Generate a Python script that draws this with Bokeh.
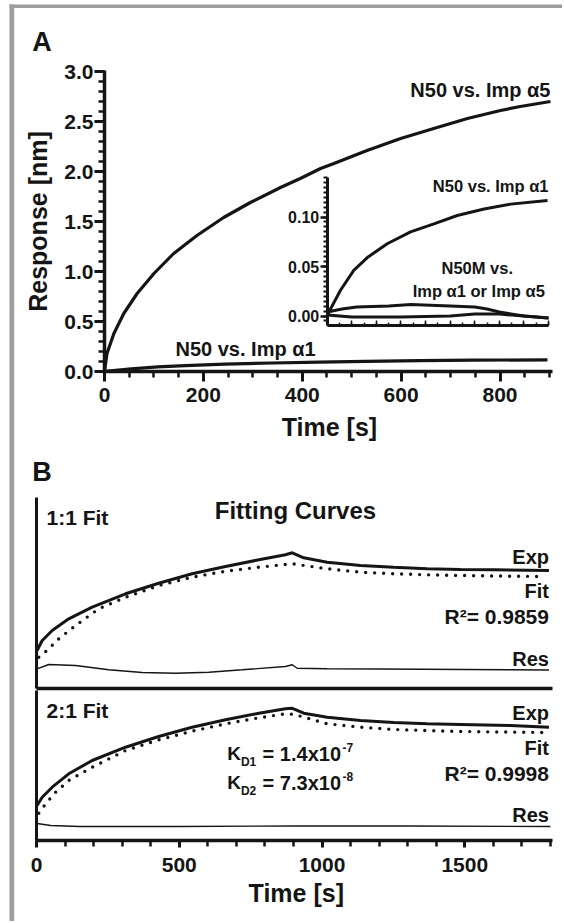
import math
from bokeh.plotting import figure
from bokeh.models import (Range1d, LinearAxis, SingleIntervalTicker, FixedTicker,
                          PrintfTickFormatter, Label, BoxAnnotation)
from bokeh.embed import file_html
from bokeh.resources import INLINE

FONT = "Liberation Sans"
INK = "#151515"
FRAME_GREY = "#9e9e9e"

# ---------------- Panel A data ----------------
a5_time = [0, 5, 19, 39, 66, 100, 140, 187, 241, 295, 356, 396, 437, 464, 531, 599, 666, 734, 801, 841, 902]
a5_resp = [0, 0.18, 0.38, 0.58, 0.78, 0.98, 1.18, 1.36, 1.54, 1.69, 1.84, 1.93, 2.03, 2.08, 2.21, 2.33,
           2.43, 2.53, 2.61, 2.65, 2.70]

a1_time = [0, 7, 54, 108, 163, 244, 339, 434, 529, 638, 746, 896]
a1_resp = [0, 0.004, 0.026, 0.046, 0.059, 0.073, 0.085, 0.093, 0.1015, 0.108, 0.113, 0.1167]

m_up_time = [0, 60, 120, 250, 340, 500, 600, 650, 700, 800, 900]
m_up_resp = [0.004, 0.007, 0.009, 0.010, 0.0115, 0.010, 0.009, 0.007, 0.004, 0.000, -0.002]

m_lo_time = [0, 100, 300, 500, 600, 700, 800, 900]
m_lo_resp = [0.001, -0.001, -0.001, 0.000, 0.002, 0.002, 0.000, -0.002]

a_time_axis = (0, 907)
a_resp_axis = (0, 3.01)
inset_time_axis = (0, 900)
inset_resp_axis = (-0.0096, 0.14)

# ---------------- Panel B data ----------------
f11_exp_t = [2, 20, 55, 113, 195, 312, 428, 545, 662, 779, 872, 896, 936, 1018, 1135, 1251, 1368, 1485, 1602, 1795]
f11_exp_v = [0.38, 0.48, 0.58, 0.697, 0.813, 0.947, 1.053, 1.147, 1.22, 1.287, 1.337, 1.357, 1.307, 1.263,
             1.23, 1.213, 1.197, 1.19, 1.187, 1.18]
f11_fit_t = [8, 37, 78, 137, 218, 312, 428, 545, 662, 779, 861, 896, 1018, 1135, 1251, 1368, 1485, 1660, 1769]
f11_fit_v = [0.313, 0.38, 0.497, 0.63, 0.797, 0.913, 1.03, 1.113, 1.173, 1.213, 1.237, 1.247, 1.197, 1.163,
             1.147, 1.137, 1.13, 1.123, 1.12]
f11_res_t = [2, 43, 137, 253, 370, 487, 604, 720, 872, 896, 913, 1018, 1200, 1500, 1795]
f11_res_v = [0.197, 0.24, 0.23, 0.187, 0.16, 0.153, 0.163, 0.187, 0.22, 0.237, 0.203, 0.197, 0.195, 0.19, 0.185]

f21_exp_t = [2, 20, 55, 113, 195, 312, 428, 545, 662, 779, 872, 896, 936, 1018, 1135, 1251, 1368, 1485, 1660, 1795]
f21_exp_v = [0.35, 0.433, 0.533, 0.667, 0.80, 0.933, 1.04, 1.133, 1.207, 1.273, 1.317, 1.322, 1.273, 1.233,
             1.20, 1.18, 1.167, 1.16, 1.15, 1.133]
f21_fit_t = [8, 32, 67, 113, 195, 312, 428, 545, 662, 779, 872, 901, 1018, 1135, 1251, 1368, 1485, 1684, 1795]
f21_fit_v = [0.273, 0.367, 0.483, 0.60, 0.733, 0.90, 1.007, 1.093, 1.167, 1.227, 1.267, 1.262, 1.167, 1.133,
             1.11, 1.10, 1.09, 1.083, 1.08]
f21_res_t = [2, 50, 150, 500, 900, 1300, 1800]
f21_res_v = [0.17, 0.15, 0.14, 0.14, 0.145, 0.145, 0.14]

b_time_axis = (0, 1807)
b1_axis = (0, 1.91)
b2_axis = (0, 1.50)

# ---------------- canvas geometry (one figure, frame = whole canvas) ----------------
W, H = 562, 921
AX0, AXS = 104.0, 0.4944     # panel A: pixel of t=0, px per second
AY0, AYS = 371.0, 100.0      # panel A: pixel of 0 nm, px per nm
IX0, IXS = 326.7, 0.2459     # inset
IY0, IYS = 315.5, 990.0
BX0, BXS = 36.0, 0.2855      # panel B
B1Y0, B2Y0, BYS = 688.0, 840.0, 100.0


def xr(zero_px, px_per_unit):
    return Range1d(-zero_px / px_per_unit, (W - zero_px) / px_per_unit)


def yr(zero_px, px_per_unit):
    return Range1d(-(H - zero_px) / px_per_unit, zero_px / px_per_unit)


p = figure(width=W, height=H, x_range=xr(AX0, AXS), y_range=yr(AY0, AYS),
           output_backend="svg", toolbar_location=None,
           x_axis_location=None, y_axis_location=None,
           min_border=0, min_border_left=0, min_border_right=0, min_border_top=0, min_border_bottom=0)
p.outline_line_color = None
p.grid.visible = False
p.extra_x_ranges = {"ix": xr(IX0, IXS), "bx": xr(BX0, BXS)}
p.extra_y_ranges = {"iy": yr(IY0, IYS), "b1y": yr(B1Y0, BYS), "b2y": yr(B2Y0, BYS)}


def px_x(X):
    return (X - AX0) / AXS


def px_y(Y):
    return (AY0 - Y) / AYS


# grey page frame (top and left edges)
p.add_layout(BoxAnnotation(left=px_x(9), right=None, top=px_y(4), bottom=px_y(7.5),
                           fill_color=FRAME_GREY, fill_alpha=1, line_color=None))
p.add_layout(BoxAnnotation(left=px_x(9), right=px_x(13.7), top=px_y(4), bottom=None,
                           fill_color=FRAME_GREY, fill_alpha=1, line_color=None))


def style_axis(ax, lw=3.5):
    ax.axis_line_width = lw
    ax.axis_line_color = INK
    ax.major_tick_line_width = 3
    ax.minor_tick_line_width = 2.5
    ax.major_tick_line_color = INK
    ax.minor_tick_line_color = INK
    ax.major_tick_in = 0
    ax.minor_tick_in = 0
    ax.major_label_text_font = FONT
    ax.major_label_text_font_style = "bold"
    ax.major_label_text_color = INK


def bare(ax):
    ax.ticker = FixedTicker(ticks=[])
    ax.major_tick_out = 0
    ax.minor_tick_out = 0
    ax.major_label_text_color = None


def lab(x, y, text, size, align="left", xn="default", yn="default", angle=0.0):
    p.add_layout(Label(x=x, y=y, text=text, text_font=FONT, text_font_size=f"{size}px",
                       text_font_style="bold", text_align=align, text_baseline="middle",
                       text_color=INK, x_range_name=xn, y_range_name=yn, angle=angle))


# ---------------- Panel A ----------------
ax_a = LinearAxis(fixed_location=0, bounds=a_time_axis,
                  ticker=SingleIntervalTicker(interval=200, num_minor_ticks=4))
style_axis(ax_a)
ax_a.major_tick_out = 10
ax_a.minor_tick_out = 6
ax_a.major_label_standoff = 6
ax_a.major_label_text_font_size = "21px"
p.add_layout(ax_a, "below")

ay_a = LinearAxis(fixed_location=0, bounds=a_resp_axis,
                  ticker=SingleIntervalTicker(interval=0.5, num_minor_ticks=5),
                  formatter=PrintfTickFormatter(format="%.1f"))
style_axis(ay_a)
ay_a.major_tick_out = 10
ay_a.minor_tick_out = 6
ay_a.major_label_standoff = 1
ay_a.major_label_text_font_size = "21px"
p.add_layout(ay_a, "left")

p.line(a5_time, a5_resp, line_width=3.2, line_color=INK)
p.line(a1_time, a1_resp, line_width=3.2, line_color=INK)

iy = LinearAxis(x_range_name="ix", y_range_name="iy", fixed_location=0, bounds=inset_resp_axis,
                ticker=SingleIntervalTicker(interval=0.05, num_minor_ticks=10),
                formatter=PrintfTickFormatter(format="%.2f"))
style_axis(iy, lw=3)
iy.major_tick_out = 7
iy.minor_tick_out = 4
iy.major_tick_line_width = 2.5
iy.minor_tick_line_width = 2
iy.major_label_standoff = 1
iy.major_label_text_font_size = "16px"
p.add_layout(iy, "left")

ix = LinearAxis(x_range_name="ix", y_range_name="iy", fixed_location=inset_resp_axis[0], bounds=inset_time_axis,
                ticker=SingleIntervalTicker(interval=100, num_minor_ticks=2))
style_axis(ix, lw=3)
ix.major_label_text_color = None
ix.major_tick_in = 5
ix.major_tick_out = 0
ix.minor_tick_in = 3
ix.minor_tick_out = 0
ix.major_tick_line_width = 1.5
ix.minor_tick_line_width = 1.5
p.add_layout(ix, "below")

for t, v in ((a1_time, a1_resp), (m_up_time, m_up_resp), (m_lo_time, m_lo_resp)):
    p.line(t, v, x_range_name="ix", y_range_name="iy", line_width=3, line_color=INK)

lab(-146, 3.30, "A", 27)
lab(455, -0.55, "Time [s]", 25, "center")
lab(-135, 1.50, "Response [nm]", 25, "center", angle=math.pi / 2)
lab(902, 2.82, "N50 vs. Imp \u03b15", 20, "right")
lab(143.6, 0.23, "N50 vs. Imp \u03b11", 20)
lab(898, 1.853, "N50 vs. Imp \u03b11", 16.5, "right")
lab(754, 1.035, "N50M vs.", 16.5, "center")
lab(757, 0.807, "Imp \u03b11 or Imp \u03b15", 16.5, "center")

# ---------------- Panel B ----------------
b1_y = LinearAxis(x_range_name="bx", y_range_name="b1y", fixed_location=0, bounds=b1_axis)
style_axis(b1_y, lw=3)
bare(b1_y)
p.add_layout(b1_y, "left")
b1_x = LinearAxis(x_range_name="bx", y_range_name="b1y", fixed_location=0, bounds=b_time_axis)
style_axis(b1_x, lw=3.5)
bare(b1_x)
p.add_layout(b1_x, "below")

p.line(f11_exp_t, f11_exp_v, x_range_name="bx", y_range_name="b1y", line_width=3, line_color=INK)
p.line(f11_fit_t, f11_fit_v, x_range_name="bx", y_range_name="b1y", line_width=3.4, line_color=INK,
       line_dash="0 9", line_cap="round")
p.line(f11_res_t, f11_res_v, x_range_name="bx", y_range_name="b1y", line_width=1.4, line_color=INK)

b2_y = LinearAxis(x_range_name="bx", y_range_name="b2y", fixed_location=0, bounds=b2_axis)
style_axis(b2_y, lw=3)
bare(b2_y)
p.add_layout(b2_y, "left")
b2_x = LinearAxis(x_range_name="bx", y_range_name="b2y", fixed_location=0, bounds=b_time_axis,
                  ticker=SingleIntervalTicker(interval=500, num_minor_ticks=5))
style_axis(b2_x)
b2_x.major_tick_out = 7
b2_x.minor_tick_out = 6
b2_x.major_label_standoff = 10
b2_x.major_label_text_font_size = "21px"
p.add_layout(b2_x, "below")

p.line(f21_exp_t, f21_exp_v, x_range_name="bx", y_range_name="b2y", line_width=3, line_color=INK)
p.line(f21_fit_t, f21_fit_v, x_range_name="bx", y_range_name="b2y", line_width=3.4, line_color=INK,
       line_dash="0 9", line_cap="round")
p.line(f21_res_t, f21_res_v, x_range_name="bx", y_range_name="b2y", line_width=1.4, line_color=INK)

B1 = dict(xn="bx", yn="b1y")
B2 = dict(xn="bx", yn="b2y")
lab(-15, 2.17, "B", 27, **B1)
lab(35, 1.715, "1:1 Fit", 21, **B1)
lab(907, 1.78, "Fitting Curves", 24, "center", **B1)
lab(1795, 1.315, "Exp", 20, "right", **B1)
lab(1795, 0.98, "Fit", 20, "right", **B1)
lab(1795, 0.72, "R\u00b2= 0.9859", 21, "right", **B1)
lab(1795, 0.30, "Res", 20, "right", **B1)

lab(35, 1.30, "2:1 Fit", 21, **B2)
lab(1795, 1.28, "Exp", 20, "right", **B2)
lab(1795, 0.93, "Fit", 20, "right", **B2)
lab(1795, 0.67, "R\u00b2= 0.9998", 21, "right", **B2)
lab(1795, 0.26, "Res", 20, "right", **B2)
lab(910, -0.52, "Time [s]", 25, "center", **B2)

lab(668, 0.87, "K", 19, **B2)
lab(716, 0.79, "D1", 12, **B2)
lab(792, 0.87, "= 1.4x10", 20, **B2)
lab(1072, 0.93, "-7", 12, **B2)
lab(668, 0.58, "K", 19, **B2)
lab(716, 0.50, "D2", 12, **B2)
lab(792, 0.58, "= 7.3x10", 20, **B2)
lab(1072, 0.64, "-8", 12, **B2)

open("out.html", "w").write(file_html(p, INLINE))
